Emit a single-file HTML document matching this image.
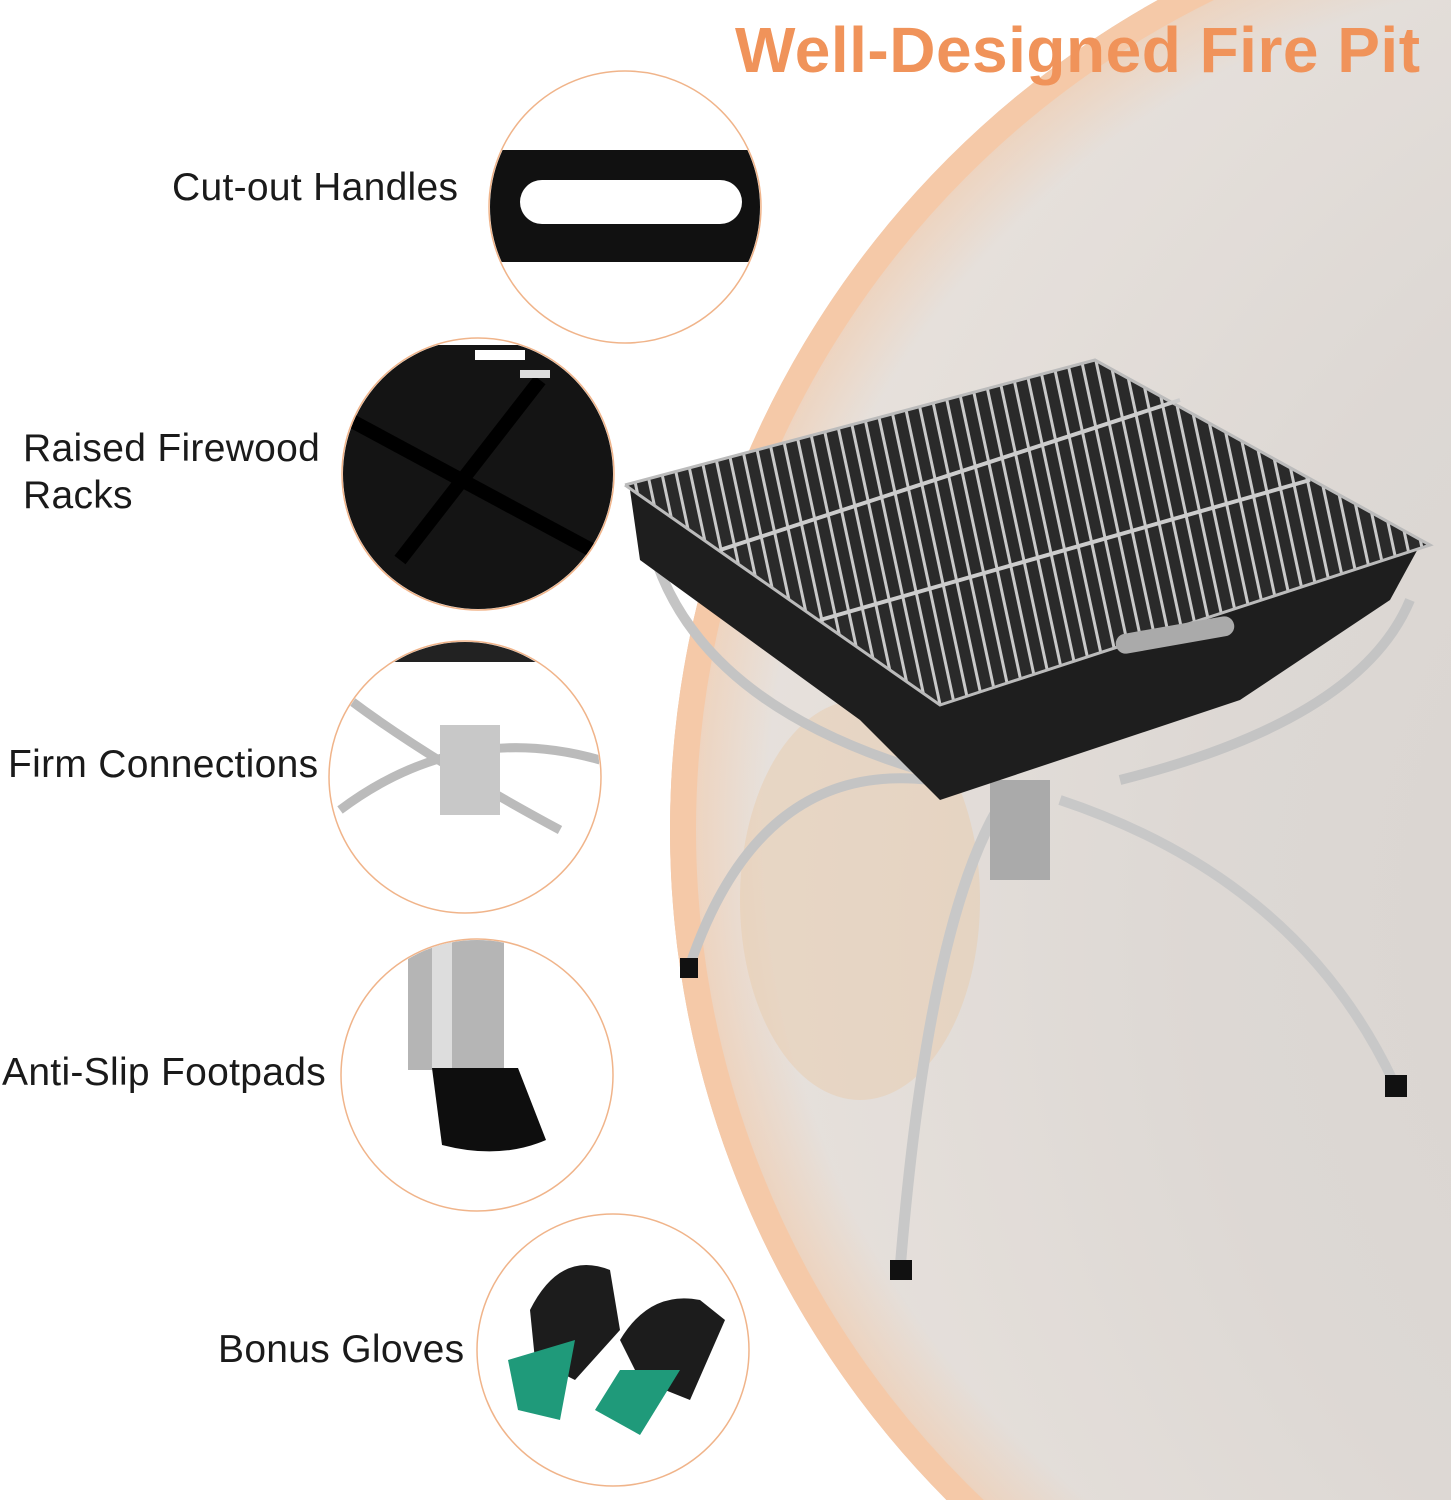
<!DOCTYPE html>
<html><head><meta charset="utf-8"><style>
html,body{margin:0;padding:0;background:#fff;overflow:hidden;width:1451px;height:1500px}
#c{position:relative;width:1451px;height:1500px;overflow:hidden;font-family:"Liberation Sans","DejaVu Sans",sans-serif}
.lbl{position:absolute;font-size:39px;color:#1a1a1a;line-height:47px;white-space:nowrap;letter-spacing:0.3px}
.t{position:absolute;left:735px;top:13px;font-size:64px;font-weight:bold;color:#f0935a;white-space:nowrap;letter-spacing:0.5px}
</style></head><body><div id="c">
<svg width="1451" height="1500" style="position:absolute;left:0;top:0">
<defs>
<radialGradient id="bg" cx="0.7" cy="0.55" r="0.7">
<stop offset="0" stop-color="#d6d2ce"/><stop offset="0.6" stop-color="#ddd8d4"/><stop offset="1" stop-color="#e8e2dd"/>
</radialGradient>
<radialGradient id="glow" cx="1620" cy="830" r="950" gradientUnits="userSpaceOnUse">
<stop offset="0.9" stop-color="#f4c9a6" stop-opacity="0"/><stop offset="0.97" stop-color="#f3c8a6" stop-opacity="0.5"/><stop offset="1" stop-color="#f2b080" stop-opacity="0.6"/>
</radialGradient>
<pattern id="grid" width="14" height="14" patternUnits="userSpaceOnUse" patternTransform="rotate(-12)">
<rect width="14" height="14" fill="none"/><line x1="3" y1="0" x2="3" y2="14" stroke="#c9c9c9" stroke-width="3"/>
</pattern>
</defs>
<circle cx="1620" cy="830" r="950" fill="url(#bg)"/>
<circle cx="1620" cy="830" r="950" fill="url(#glow)"/>
<ellipse cx="860" cy="900" rx="120" ry="200" fill="#e8c9a8" opacity="0.45"/>
<circle cx="1620" cy="830" r="937" fill="none" stroke="#f5c9a8" stroke-width="26"/>
<g>
<path d="M690 965 Q760 760 930 780" fill="none" stroke="#c4c4c4" stroke-width="10"/>
<path d="M900 1270 Q930 900 1010 790" fill="none" stroke="#c8c8c8" stroke-width="11"/>
<path d="M1395 1085 Q1300 880 1060 800" fill="none" stroke="#c8c8c8" stroke-width="10"/>
<path d="M650 540 Q690 700 920 770" fill="none" stroke="#c4c4c4" stroke-width="10"/>
<path d="M1410 600 Q1360 720 1120 780" fill="none" stroke="#c4c4c4" stroke-width="10"/>
<rect x="680" y="958" width="18" height="20" fill="#111"/>
<rect x="1385" y="1075" width="22" height="22" fill="#111"/>
<rect x="890" y="1260" width="22" height="20" fill="#111"/>
<rect x="990" y="780" width="60" height="100" fill="#aaa"/>
<polygon points="630,490 1090,365 1420,545 1390,600 1240,700 940,800 860,720 640,560" fill="#1e1e1e"/>
<polygon points="625,485 1095,360 1430,545 940,705" fill="#2a2a2a"/>
<polygon points="625,485 1095,360 1430,545 940,705" fill="url(#grid)"/>
<polyline points="625,485 1095,360 1430,545 940,705 625,485" fill="none" stroke="#bbb" stroke-width="3"/>
<line x1="720" y1="550" x2="1180" y2="400" stroke="#ccc" stroke-width="4"/>
<line x1="820" y1="620" x2="1310" y2="480" stroke="#ccc" stroke-width="4"/>
<rect x="1115" y="625" width="120" height="20" rx="10" fill="#aaa" transform="rotate(-10 1175 635)"/>
</g>
<clipPath id="k1"><circle cx="625" cy="207" r="135"/></clipPath>
<clipPath id="k2"><circle cx="478" cy="474" r="135"/></clipPath>
<clipPath id="k3"><circle cx="465" cy="777" r="135"/></clipPath>
<clipPath id="k4"><circle cx="477" cy="1075" r="135"/></clipPath>
<clipPath id="k5"><circle cx="613" cy="1350" r="135"/></clipPath>
<circle cx="625" cy="207" r="136" fill="#fff"/>
<g clip-path="url(#k1)"><rect x="480" y="150" width="300" height="112" fill="#111"/><rect x="520" y="180" width="222" height="44" rx="22" fill="#fff"/></g>
<circle cx="478" cy="474" r="136" fill="#fff"/>
<g clip-path="url(#k2)"><rect x="340" y="345" width="280" height="270" fill="#141414"/>
<line x1="350" y1="420" x2="610" y2="560" stroke="#000" stroke-width="14"/><line x1="400" y1="560" x2="540" y2="380" stroke="#000" stroke-width="14"/>
<rect x="475" y="350" width="50" height="10" fill="#fff"/><rect x="520" y="370" width="30" height="8" fill="#ddd"/></g>
<circle cx="465" cy="777" r="136" fill="#fff"/>
<g clip-path="url(#k3)"><rect x="330" y="640" width="280" height="22" fill="#222"/>
<path d="M340 810 Q460 720 600 760" fill="none" stroke="#bbb" stroke-width="9"/>
<path d="M350 700 Q430 760 560 830" fill="none" stroke="#bbb" stroke-width="9"/>
<rect x="440" y="725" width="60" height="90" fill="#c8c8c8"/></g>
<circle cx="477" cy="1075" r="136" fill="#fff"/>
<g clip-path="url(#k4)"><rect x="408" y="940" width="96" height="130" fill="#b5b5b5"/><rect x="432" y="940" width="20" height="130" fill="#ddd"/>
<path d="M432 1068 L518 1068 L546 1140 Q500 1160 442 1145 Z" fill="#0e0e0e"/></g>
<circle cx="613" cy="1350" r="136" fill="#fff"/>
<g clip-path="url(#k5)">
<path d="M530 1310 Q560 1250 610 1270 L620 1330 L575 1380 L535 1360 Z" fill="#1c1c1c"/>
<path d="M508 1360 L575 1340 L560 1420 L518 1410 Z" fill="#1f9a7a"/>
<path d="M620 1340 Q650 1290 700 1300 L725 1320 L690 1400 L640 1380 Z" fill="#1c1c1c"/>
<path d="M620 1370 L680 1370 L640 1435 L595 1410 Z" fill="#1f9a7a"/></g>
<g fill="none" stroke="#f0b48a" stroke-width="1.5">
<circle cx="625" cy="207" r="136"/><circle cx="478" cy="474" r="136"/><circle cx="465" cy="777" r="136"/><circle cx="477" cy="1075" r="136"/><circle cx="613" cy="1350" r="136"/>
</g>
</svg>
<div class="t">Well-Designed Fire Pit</div>
<div class="lbl" style="left:172px;top:164px">Cut-out Handles</div>
<div class="lbl" style="left:23px;top:425px">Raised Firewood<br>Racks</div>
<div class="lbl" style="left:8px;top:741px">Firm Connections</div>
<div class="lbl" style="left:2px;top:1049px">Anti-Slip Footpads</div>
<div class="lbl" style="left:218px;top:1326px">Bonus Gloves</div>
</div></body></html>
